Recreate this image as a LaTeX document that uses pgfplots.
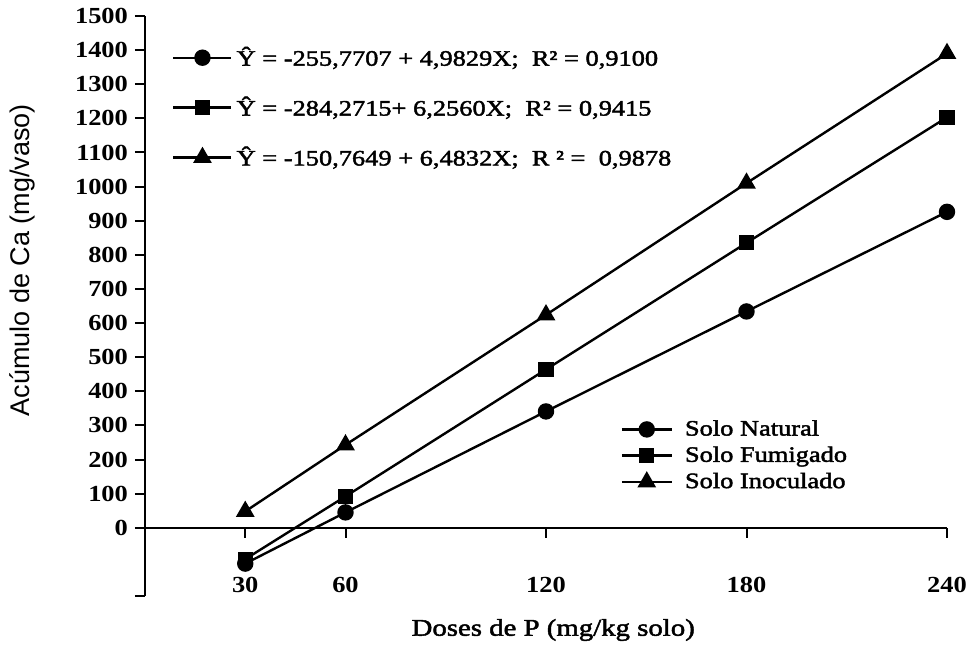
\documentclass[border=0pt]{standalone}
\usepackage{fontspec}
\setmainfont{Liberation Serif}[FakeStretch=1.2,FakeBold=2]
\newfontfamily\tickfont{Liberation Serif}[FakeStretch=1.15]
\newfontfamily\labelsans{Liberation Sans}
\usepackage{pgfplots}
\pgfplotsset{compat=1.18}
\usetikzlibrary{calc}
\begin{document}
\begin{tikzpicture}
\pgfplotsset{
  common/.style={
    width=401pt, height=290pt, scale only axis,
    xmin=0, xmax=240, ymin=-200, ymax=1500,
    clip=false,
  },
  mline/.style={black, line width=1.2pt},
}
\begin{axis}[common, name=ax,
  axis x line*=middle, axis y line*=left,
  hide obscured x ticks=false, hide obscured y ticks=false,
  axis line style={line width=1pt, black},
  tick style={line width=1pt, black},
  tick align=outside, major tick length=5pt,
  xtick={30,60,120,180,240},
  ytick={0,100,...,1500},
  extra y ticks={-200}, extra y tick labels={},
  /pgf/number format/1000 sep={},
  /pgf/number format/assume math mode=true,
  ticklabel style={font=\tickfont\bfseries\fontsize{11.5}{13}\selectfont},
  xticklabel style={yshift=-16pt},
  xlabel={Doses de P (mg/kg solo)},
  xlabel style={at={(axis description cs:0.509,-0.0586)}, anchor=center, font=\fontsize{12}{14}\selectfont},
  ylabel={Acúmulo de Ca (mg/vaso)},
  ylabel style={at={(axis description cs:-0.153,0.579)}, anchor=center, font=\labelsans\fontsize{13.5}{15}\selectfont},
  legend style={draw=none, fill=none, at={(axis description cs:0.59,0.314)}, anchor=north west,
    font=\fontsize{11}{13}\selectfont, row sep=0pt, inner sep=1pt,
    /tikz/every odd column/.append style={column sep=4pt}},
  legend cell align=left,
  legend image code/.code={\draw[mark repeat=2,mark phase=2,#1] plot coordinates {(0pt,0pt) (12.5pt,0pt) (25pt,0pt)};},
]
\addplot[mline, mark=*, mark size=3.5pt, mark options={solid, fill=black}]
  coordinates {(30,-105) (60,45) (120,341) (180,634) (240,926)};
\addlegendentry{Solo Natural}
\addplot[mline, mark=square*, mark size=3.2pt, mark options={solid, fill=black}]
  coordinates {(30,-92) (60,92) (120,464) (180,835) (240,1203)};
\addlegendentry{Solo Fumigado}
\addplot[mline, mark=triangle*, mark size=4.2pt, mark options={solid, fill=black}]
  coordinates {(30,48) (60,243) (120,624) (180,1010) (240,1390)};
\addlegendentry{Solo Inoculado}
\end{axis}
\begin{axis}[common, hide axis,
  legend style={draw=none, fill=none, at={(axis description cs:0.031,0.958)}, anchor=north west,
    font=\fontsize{11}{13}\selectfont, row sep=10pt, inner sep=1pt},
  legend cell align=left,
  legend image code/.code={\draw[mark repeat=2,mark phase=2,#1] plot coordinates {(0pt,0pt) (14.5pt,0pt) (29pt,0pt)};},
]
\addlegendimage{mline, mark=*, mark size=3.5pt, mark options={solid, fill=black}}
\addlegendentry{Ŷ = -255,7707 + 4,9829X;\ \ R² = 0,9100}
\addlegendimage{mline, mark=square*, mark size=3.2pt, mark options={solid, fill=black}}
\addlegendentry{Ŷ = -284,2715+ 6,2560X;\ \ R² = 0,9415}
\addlegendimage{mline, mark=triangle*, mark size=4.2pt, mark options={solid, fill=black}}
\addlegendentry{Ŷ = -150,7649 + 6,4832X;\ \ R ² =\ \ 0,9878}
\end{axis}
\pgfresetboundingbox
\path ($(ax.south west)+(-72.5pt,-24pt)$) rectangle ($(ax.north east)+(10.5pt,8pt)$);
\end{tikzpicture}
\end{document}
